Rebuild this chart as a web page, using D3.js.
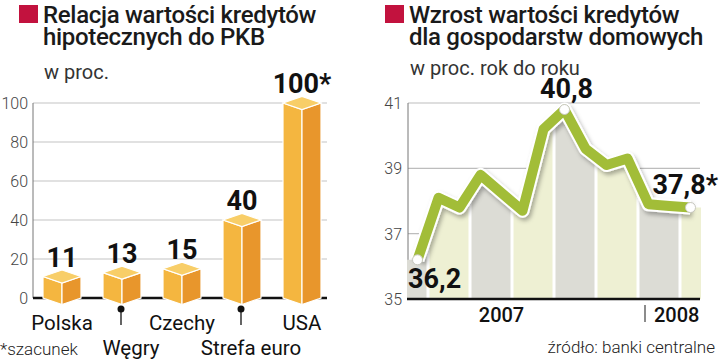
<!DOCTYPE html>
<html>
<head>
<meta charset="utf-8">
<script src="https://cdn.jsdelivr.net/npm/d3@7"></script>
<style>
  body { margin: 0; background: #fff; }
  text { font-family: Roboto, "Liberation Sans", sans-serif; }
</style>
</head>
<body>
<div id="chart"></div>
<script>
// left panel data
var countries = ["Polska", "Węgry", "Czechy", "Strefa euro", "USA"];
var mortgageShare = [11, 13, 15, 40, 100];
var shareLabels = ["11", "13", "15", "40", "100*"];
var shareTicks = [0, 20, 40, 60, 80, 100];

// right panel data
var months = ["2007-02", "2007-03", "2007-04", "2007-05", "2007-06", "2007-07", "2007-08",
              "2007-09", "2007-10", "2007-11", "2007-12", "2008-01", "2008-02", "2008-03"];
var growth = [36.2, 38.1, 37.8, 38.8, 38.25, 37.7, 40.2, 40.8, 39.6, 39.1, 39.3, 37.9, 37.85, 37.8];
var growthTicks = [35, 37, 39, 41];
var markedPoints = [0, 7, 13];
var markedLabels = ["36,2", "40,8", "37,8*"];
var yearLabels = ["2007", "2008"];
var yearMonths = ["2007-06", "2008-01"];

var W = 720, H = 362;
var svg = d3.select("#chart").append("svg")
  .attr("width", W)
  .attr("height", H);

var defs = svg.append("defs");
var shadow = defs.append("filter").attr("id", "shadow")
  .attr("x", "-10%").attr("y", "-10%").attr("width", "130%").attr("height", "130%");
shadow.append("feDropShadow")
  .attr("dx", 2).attr("dy", 3).attr("stdDeviation", 2)
  .attr("flood-color", "#000").attr("flood-opacity", 0.3);

// titles
function title(x, lines, sub, subY) {
  svg.append("rect").attr("x", x).attr("y", 5).attr("width", 19).attr("height", 18)
    .attr("fill", "#c2123e");
  lines.forEach(function(l, i) {
    svg.append("text").attr("x", x + 24).attr("y", 23 + i * 22)
      .attr("font-size", 24).attr("font-weight", 500).attr("fill", "#1a1a1a")
      .attr("letter-spacing", -0.3)
      .text(l);
  });
  svg.append("text").attr("x", x + 25).attr("y", subY)
    .attr("font-size", 20).attr("fill", "#333")
    .text(sub);
}
title(19, ["Relacja wartości kredytów", "hipotecznych do PKB"], "w proc.", 79);
title(385, ["Wzrost wartości kredytów", "dla gospodarstw domowych"], "w proc. rok do roku", 75);

// ---------- left: 3D bars ----------
var xL = d3.scalePoint().domain(countries).range([32, 332]).padding(0.5);
var yL = d3.scaleLinear().domain([0, 100]).range([298, 103]);
var left = svg.append("g");

left.selectAll(".grid").data(shareTicks.filter(function(d) { return d > 0; }))
  .enter().append("line")
  .attr("x1", 33).attr("x2", 327)
  .attr("y1", function(d) { return yL(d); }).attr("y2", function(d) { return yL(d); })
  .attr("stroke", "#c4c4c4").attr("stroke-width", 1.2);

left.append("line").attr("x1", 33).attr("x2", 33).attr("y1", yL(100)).attr("y2", yL(0))
  .attr("stroke", "#777").attr("stroke-width", 1);

left.selectAll(".tick").data(shareTicks).enter().append("text")
  .attr("x", 28).attr("y", function(d) { return yL(d) + 6; })
  .attr("text-anchor", "end").attr("font-size", 16).attr("font-weight", 300).attr("fill", "#444")
  .text(function(d) { return d; });

left.append("line").attr("x1", 33).attr("x2", 327).attr("y1", yL(0)).attr("y2", yL(0))
  .attr("stroke", "#111").attr("stroke-width", 2.5);

var hw = 19, dh = 6.5, base = yL(0);
var bars = left.selectAll(".bar").data(mortgageShare).enter().append("g");
bars.append("path")
  .attr("fill", "#f4b640").attr("stroke", "#fff").attr("stroke-width", 1.2)
  .attr("d", function(d, i) {
    var c = xL(countries[i]), t = yL(d);
    return "M" + (c - hw) + "," + t + "L" + c + "," + (t + dh) + "L" + c + "," + (base + dh) +
      "L" + (c - hw) + "," + base + "Z";
  });
bars.append("path")
  .attr("fill", "#e8962c").attr("stroke", "#fff").attr("stroke-width", 1.2)
  .attr("d", function(d, i) {
    var c = xL(countries[i]), t = yL(d);
    return "M" + c + "," + (t + dh) + "L" + (c + hw) + "," + t + "L" + (c + hw) + "," + base +
      "L" + c + "," + (base + dh) + "Z";
  });
bars.append("path")
  .attr("fill", "#f8ce68").attr("stroke", "#fff").attr("stroke-width", 1.2)
  .attr("d", function(d, i) {
    var c = xL(countries[i]), t = yL(d);
    return "M" + (c - hw) + "," + t + "L" + c + "," + (t - dh) + "L" + (c + hw) + "," + t +
      "L" + c + "," + (t + dh) + "Z";
  });

left.selectAll(".val").data(mortgageShare).enter().append("text")
  .attr("x", function(d, i) { return xL(countries[i]); })
  .attr("y", function(d) { return yL(d) - 10; })
  .attr("text-anchor", "middle")
  .attr("font-family", "Liberation Sans, Arial, sans-serif")
  .attr("font-size", 27).attr("font-weight", 700).attr("fill", "#111")
  .text(function(d, i) { return shareLabels[i]; });

// category labels, alternate rows with pins
countries.forEach(function(c, i) {
  var cx = xL(c);
  if (i % 2 === 1) {
    left.append("circle").attr("cx", cx - 1).attr("cy", 309).attr("r", 3.5).attr("fill", "#111");
    left.append("line").attr("x1", cx - 1).attr("x2", cx - 1).attr("y1", 309).attr("y2", 325)
      .attr("stroke", "#111").attr("stroke-width", 1.3);
    left.append("text").attr("x", cx + 9).attr("y", 355)
      .attr("text-anchor", "middle").attr("font-size", 20.5).attr("fill", "#111").text(c);
  } else {
    left.append("text").attr("x", cx).attr("y", 330)
      .attr("text-anchor", "middle").attr("font-size", 20.5).attr("fill", "#111").text(c);
  }
});

svg.append("text").attr("x", 0).attr("y", 355)
  .attr("font-size", 17).attr("font-weight", 300).attr("fill", "#222").text("*szacunek");

// ---------- right: line with banded area ----------
var xR = d3.scaleBand().domain(months).range([407, 701]);
var yR = d3.scaleLinear().domain([35, 41]).range([299, 103]);
var right = svg.append("g");
var mid = function(m) { return xR(m) + xR.bandwidth() / 2; };

right.selectAll(".grid").data(growthTicks.filter(function(d) { return d > 35; }))
  .enter().append("line")
  .attr("x1", 408).attr("x2", 700)
  .attr("y1", function(d) { return yR(d); }).attr("y2", function(d) { return yR(d); })
  .attr("stroke", "#bdbdbd").attr("stroke-width", 1.2);

right.append("line").attr("x1", 408).attr("x2", 408).attr("y1", yR(41)).attr("y2", yR(35))
  .attr("stroke", "#777").attr("stroke-width", 1);

right.selectAll(".tick").data(growthTicks).enter().append("text")
  .attr("x", 402).attr("y", function(d) { return yR(d) + 6; })
  .attr("text-anchor", "end").attr("font-size", 16).attr("font-weight", 300).attr("fill", "#444")
  .text(function(d) { return d; });

// area under the line, used as clip for coloured month bands
var pts = growth.map(function(v, i) { return [mid(months[i]), yR(v)]; });
var areaPts = [[xR.range()[0], yR(growth[0])]].concat(pts)
  .concat([[xR.range()[1], yR(growth[growth.length - 1])]]);
var area = d3.area().x(function(d) { return d[0]; }).y0(yR(35)).y1(function(d) { return d[1]; });
defs.append("clipPath").attr("id", "under").append("path").attr("d", area(areaPts));

var bandG = right.append("g").attr("clip-path", "url(#under)");
bandG.selectAll("rect").data(months).enter().append("rect")
  .attr("x", function(m) { return xR(m); })
  .attr("width", xR.bandwidth() + 0.5)
  .attr("y", yR(41) - 10).attr("height", yR(35) - yR(41) + 10)
  .attr("fill", function(m, i) { return Math.floor((i + 1) / 2) % 2 === 0 ? "#dcdcd5" : "#eef0d3"; });
bandG.selectAll("line").data(months.filter(function(m, i) { return i % 2 === 1; }))
  .enter().append("line")
  .attr("x1", function(m) { return xR(m); }).attr("x2", function(m) { return xR(m); })
  .attr("y1", yR(41) - 10).attr("y2", yR(35))
  .attr("stroke", "#fff").attr("stroke-width", 3);

right.append("line").attr("x1", 407).attr("x2", 700).attr("y1", yR(35)).attr("y2", yR(35))
  .attr("stroke", "#111").attr("stroke-width", 2.5);

var line = d3.line().x(function(d) { return d[0]; }).y(function(d) { return d[1]; });
right.append("path").attr("d", line(pts)).attr("fill", "none")
  .attr("stroke", "#fff").attr("stroke-width", 14).attr("stroke-linejoin", "round")
  .attr("filter", "url(#shadow)");
right.append("path").attr("d", line(pts)).attr("fill", "none")
  .attr("stroke", "#a2bd38").attr("stroke-width", 10).attr("stroke-linejoin", "round");

right.selectAll(".mark").data(markedPoints).enter().append("circle")
  .attr("cx", function(i) { return pts[i][0]; })
  .attr("cy", function(i) { return pts[i][1]; })
  .attr("r", 5).attr("fill", "#fff").attr("stroke", "#c8c8c0").attr("stroke-width", 1);

var lblStyle = function(s) {
  return s.attr("font-family", "Liberation Sans, Arial, sans-serif")
    .attr("font-size", 27).attr("font-weight", 700).attr("fill", "#111");
};
lblStyle(right.append("text").attr("x", 408).attr("y", pts[0][1] + 28)
  .attr("text-anchor", "start").text(markedLabels[0]));
lblStyle(right.append("text").attr("x", pts[7][0] + 2).attr("y", pts[7][1] - 12)
  .attr("text-anchor", "middle").text(markedLabels[1]));
lblStyle(right.append("text").attr("x", 718).attr("y", pts[13][1] - 14)
  .attr("text-anchor", "end").text(markedLabels[2]));

// year labels
right.append("text").attr("x", mid(yearMonths[0])).attr("y", 322)
  .attr("text-anchor", "middle").attr("font-size", 20).attr("font-weight", 500).attr("fill", "#111")
  .text(yearLabels[0]);
right.append("line").attr("x1", xR(yearMonths[1]) + 7).attr("x2", xR(yearMonths[1]) + 7)
  .attr("y1", 305).attr("y2", 322).attr("stroke", "#666").attr("stroke-width", 1.5);
right.append("text").attr("x", xR(yearMonths[1]) + 16).attr("y", 322)
  .attr("font-size", 20).attr("font-weight", 500).attr("fill", "#111")
  .text(yearLabels[1]);

svg.append("text").attr("x", 715).attr("y", 353).attr("text-anchor", "end")
  .attr("font-size", 17).attr("font-weight", 300).attr("fill", "#222").text("źródło: banki centralne");
</script>
</body>
</html>
